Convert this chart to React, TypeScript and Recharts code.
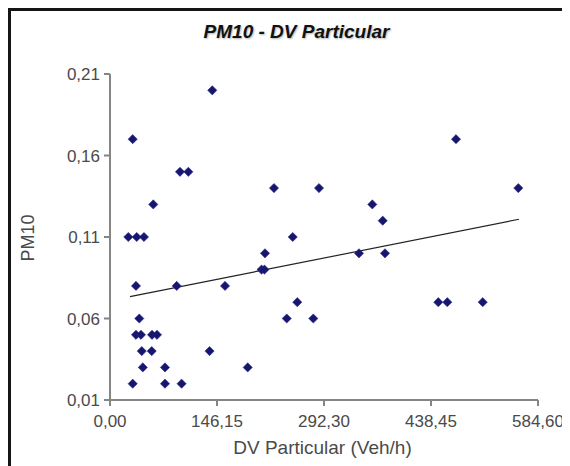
import React from "react";
import { ScatterChart, Scatter, XAxis, YAxis, ReferenceLine } from "recharts";

const xValues = [
  31, 472.6,
  95.6, 107,
  59.1, 358.3,
  25, 36.5, 46.4, 249.6,
  35.5, 91.1, 157.1,
  40, 241.4, 277.7,
  35.5, 42.3, 57.4, 64.2,
  43.4, 57.0, 136,
  44.8, 75.1, 188.1,
  31.0, 75.1, 97.8,
  139.7,
  224.0, 285.5, 557.7,
  372.5,
  211.7, 340.1, 375.6,
  207, 211,
  255.8, 448.4, 460.7, 509.1,
];
const yValues = [
  0.17, 0.17,
  0.15, 0.15,
  0.13, 0.13,
  0.11, 0.11, 0.11, 0.11,
  0.08, 0.08, 0.08,
  0.06, 0.06, 0.06,
  0.05, 0.05, 0.05, 0.05,
  0.04, 0.04, 0.04,
  0.03, 0.03, 0.03,
  0.02, 0.02, 0.02,
  0.2,
  0.14, 0.14, 0.14,
  0.12,
  0.1, 0.1, 0.1,
  0.09, 0.09,
  0.07, 0.07, 0.07, 0.07,
];
const xTicks = [0, 146.15, 292.3, 438.45, 584.6];
const yTicks = [0.01, 0.06, 0.11, 0.16, 0.21];
const trendStart = { x: 27.3, y: 0.0734 };
const trendEnd = { x: 558.6, y: 0.1209 };

const points = xValues.map((x, i) => ({ x, y: yValues[i] }));
const fmt = (v: number) => v.toFixed(2).replace(".", ",");

const Diamond = (props: any) => {
  const { cx, cy } = props;
  const r = 4.6;
  return (
    <polygon
      points={`${cx},${cy - r} ${cx + r},${cy} ${cx},${cy + r} ${cx - r},${cy}`}
      fill="#16166e"
      stroke="#2a2a8a"
      strokeWidth={0.6}
    />
  );
};

const font = "'Liberation Sans', Arial, sans-serif";

export default function App() {
  return (
    <div style={{ position: "relative", width: 562, height: 458, overflow: "hidden", background: "#fff" }}>
      <ScatterChart
        width={562}
        height={458}
        margin={{ top: 66, right: 32, bottom: 26, left: 42 }}
      >
        <XAxis
          type="number"
          dataKey="x"
          domain={[0, 584.6]}
          ticks={xTicks}
          tickFormatter={fmt}
          stroke="#858585"
          strokeWidth={2}
          tickSize={6}
          tickMargin={9}
          height={40}
          tick={{ fill: "#4a4a4a", fontSize: 17, fontFamily: font }}
          allowDataOverflow
        />
        <YAxis
          type="number"
          dataKey="y"
          domain={[0.01, 0.21]}
          ticks={yTicks}
          tickFormatter={fmt}
          stroke="#858585"
          strokeWidth={2}
          tickSize={6}
          tickMargin={4}
          width={60}
          tick={{ fill: "#4a4a4a", fontSize: 17, fontFamily: font }}
          allowDataOverflow
        />
        <ReferenceLine
          segment={[trendStart, trendEnd]}
          stroke="#222"
          strokeWidth={1.2}
          ifOverflow="visible"
        />
        <Scatter data={points} shape={<Diamond />} isAnimationActive={false} />
      </ScatterChart>
      <div style={{ position: "absolute", left: 0, top: 0, width: 562, height: 2.5, background: "#151515" }} />
      <div style={{ position: "absolute", left: 0, top: 0, width: 2.5, height: 458, background: "#151515" }} />
      <div
        style={{
          position: "absolute",
          left: 138.5,
          top: 12.5,
          width: 300,
          textAlign: "center",
          fontFamily: font,
          fontWeight: "bold",
          fontStyle: "italic",
          fontSize: 19,
          color: "#111",
          textShadow: "1px 1px 2px rgba(0,0,0,0.3)",
          whiteSpace: "nowrap",
        }}
      >
        PM10 - DV Particular
      </div>
      <div
        style={{
          position: "absolute",
          left: 164.5,
          top: 428.5,
          width: 300,
          textAlign: "center",
          fontFamily: font,
          fontSize: 19,
          color: "#4a4a4a",
          whiteSpace: "nowrap",
        }}
      >
        DV Particular (Veh/h)
      </div>
      <div
        style={{
          position: "absolute",
          left: -20,
          top: 219,
          width: 80,
          height: 22,
          lineHeight: "22px",
          textAlign: "center",
          fontFamily: font,
          fontSize: 18,
          color: "#4a4a4a",
          transform: "rotate(-90deg)",
          whiteSpace: "nowrap",
        }}
      >
        PM10
      </div>
    </div>
  );
}
